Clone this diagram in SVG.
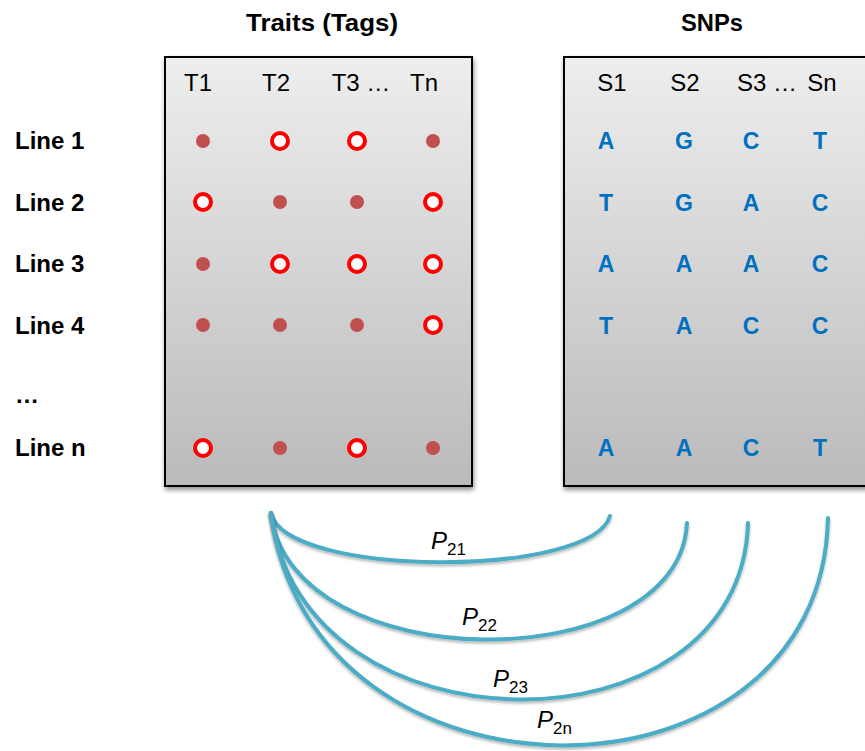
<svg xmlns="http://www.w3.org/2000/svg" width="865" height="751" viewBox="0 0 865 751">
<defs>
<linearGradient id="gbox" x1="0" y1="0" x2="0" y2="1">
<stop offset="0" stop-color="#eeeeee"/>
<stop offset="1" stop-color="#bababa"/>
</linearGradient>
<filter id="sh" x="-10%" y="-10%" width="120%" height="120%">
<feGaussianBlur in="SourceAlpha" stdDeviation="2.5"/>
<feOffset dx="1" dy="3" result="b"/>
<feComponentTransfer><feFuncA type="linear" slope="0.45"/></feComponentTransfer>
<feMerge><feMergeNode/><feMergeNode in="SourceGraphic"/></feMerge>
</filter>
<filter id="sh2" x="-10%" y="-10%" width="120%" height="130%">
<feGaussianBlur in="SourceAlpha" stdDeviation="1.5"/>
<feOffset dx="0" dy="2" result="b"/>
<feComponentTransfer><feFuncA type="linear" slope="0.3"/></feComponentTransfer>
<feMerge><feMergeNode/><feMergeNode in="SourceGraphic"/></feMerge>
</filter>
</defs>
<style>
.t{font-family:"Liberation Sans",Arial,sans-serif;}
.title{font-size:24px;font-weight:bold;fill:#000;text-anchor:middle;}
.hdr{font-size:24px;fill:#000;text-anchor:middle;}
.row{font-size:24px;font-weight:bold;fill:#000;}
.snp{font-size:23px;font-weight:bold;fill:#0070c0;text-anchor:middle;}
.box{fill:url(#gbox);stroke:#000;stroke-width:2;filter:url(#sh);}
.dot{fill:#c0504d;}
.ring{fill:#fff;stroke:#ff0000;stroke-width:4;}
.arc{fill:none;stroke:#4bacc6;stroke-width:4;stroke-linecap:round;filter:url(#sh2);}
.p{font-size:24px;font-style:italic;fill:#000;}
.sub{font-size:17px;font-style:normal;}
</style>
<rect width="865" height="751" fill="#fff"/>

<g id="titles">
<text class="t title" x="322" y="31" textLength="152" lengthAdjust="spacingAndGlyphs">Traits (Tags)</text>
<text class="t title" x="712" y="31" textLength="62" lengthAdjust="spacingAndGlyphs">SNPs</text>
</g>

<g id="rows">
<text class="t row" x="15" y="149">Line 1</text>
<text class="t row" x="15" y="211">Line 2</text>
<text class="t row" x="15" y="272">Line 3</text>
<text class="t row" x="15" y="334">Line 4</text>
<text class="t row" x="15" y="403">…</text>
<text class="t row" x="15" y="456">Line n</text>
</g>

<g id="traits">
<rect class="box" x="165" y="57" width="307" height="429"/>
<text class="t hdr" x="198" y="91">T1</text>
<text class="t hdr" x="276" y="91">T2</text>
<text class="t hdr" x="361" y="91">T3 …</text>
<text class="t hdr" x="424" y="91">Tn</text>
<circle class="dot" cx="203" cy="141" r="7"/>
<circle class="ring" cx="280" cy="141" r="8"/>
<circle class="ring" cx="357" cy="141" r="8"/>
<circle class="dot" cx="433" cy="141" r="7"/>
<circle class="ring" cx="203" cy="202" r="8"/>
<circle class="dot" cx="280" cy="202" r="7"/>
<circle class="dot" cx="357" cy="202" r="7"/>
<circle class="ring" cx="433" cy="202" r="8"/>
<circle class="dot" cx="203" cy="264" r="7"/>
<circle class="ring" cx="280" cy="264" r="8"/>
<circle class="ring" cx="357" cy="264" r="8"/>
<circle class="ring" cx="433" cy="264" r="8"/>
<circle class="dot" cx="203" cy="325" r="7"/>
<circle class="dot" cx="280" cy="325" r="7"/>
<circle class="dot" cx="357" cy="325" r="7"/>
<circle class="ring" cx="433" cy="325" r="8"/>
<circle class="ring" cx="203" cy="448" r="8"/>
<circle class="dot" cx="280" cy="448" r="7"/>
<circle class="ring" cx="357" cy="448" r="8"/>
<circle class="dot" cx="433" cy="448" r="7"/>
</g>

<g id="snps">
<rect class="box" x="564" y="57" width="310" height="429"/>
<text class="t hdr" x="612" y="91">S1</text>
<text class="t hdr" x="685" y="91">S2</text>
<text class="t hdr" x="767" y="91">S3 …</text>
<text class="t hdr" x="822" y="91">Sn</text>
<g class="t snp">
<text x="606" y="149">A</text><text x="684" y="149">G</text><text x="751" y="149">C</text><text x="820" y="149">T</text>
<text x="606" y="211">T</text><text x="684" y="211">G</text><text x="751" y="211">A</text><text x="820" y="211">C</text>
<text x="606" y="272">A</text><text x="684" y="272">A</text><text x="751" y="272">A</text><text x="820" y="272">C</text>
<text x="606" y="334">T</text><text x="684" y="334">A</text><text x="751" y="334">C</text><text x="820" y="334">C</text>
<text x="606" y="456">A</text><text x="684" y="456">A</text><text x="751" y="456">C</text><text x="820" y="456">T</text>
</g>
</g>

<g id="connectors">
<path class="arc" d="M271,513 C285,578 592,578 610,516"/>
<path class="arc" d="M271,513 C290,680 680,680 687,523"/>
<path class="arc" d="M271,513 C300,760 742,760 748,523"/>
<path class="arc" d="M271,513 C310,822 822,822 828,518"/>
<text class="t p" x="431" y="549">P<tspan class="sub" dy="6">21</tspan></text>
<text class="t p" x="462" y="625">P<tspan class="sub" dy="6">22</tspan></text>
<text class="t p" x="493" y="687">P<tspan class="sub" dy="6">23</tspan></text>
<text class="t p" x="537" y="728">P<tspan class="sub" dy="6">2n</tspan></text>
</g>
</svg>
